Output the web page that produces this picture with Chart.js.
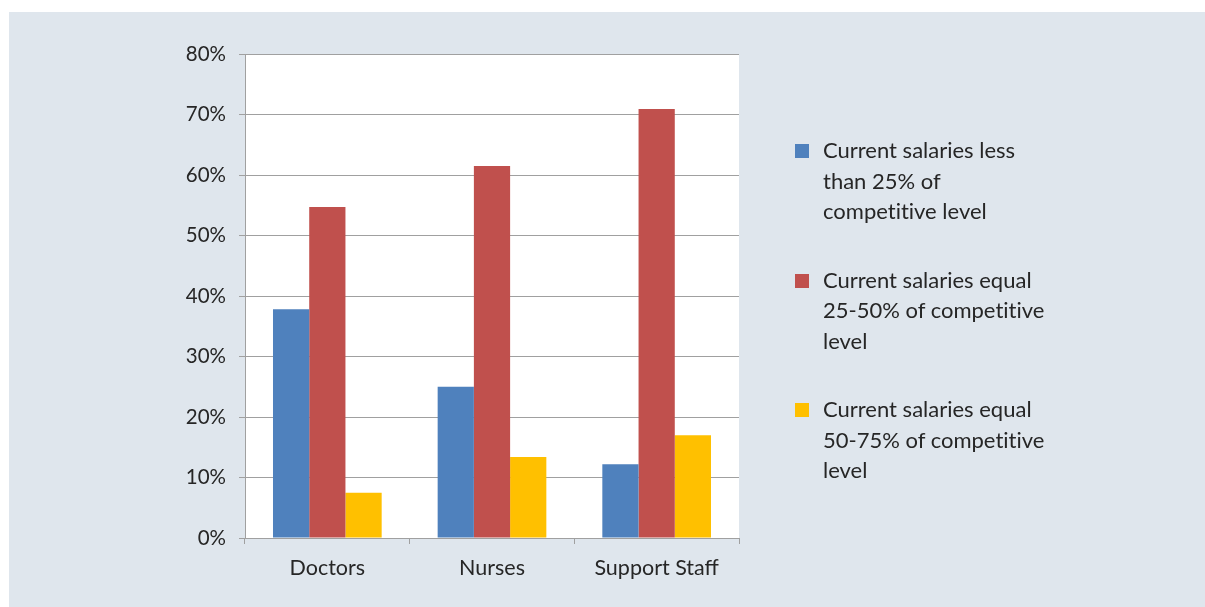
<!DOCTYPE html>
<html lang="en">
<head>
    <meta charset="UTF-8">
    <title>Salaries vs competitive level</title>
    <script src="https://cdn.jsdelivr.net/npm/chart.js"></script>
    <style>
        html, body { margin: 0; padding: 0; background: #ffffff; }
        .painel {
            position: absolute;
            left: 9px;
            top: 12px;
            width: 1196px;
            height: 595px;
            background: #dfe6ed;
        }
        #grafico { position: absolute; left: 0; top: 0; }
        .legenda { position: absolute; left: 786px; top: 123px; font-family: Lato, sans-serif; font-size: 22px; color: #262626; font-variant-ligatures: none; }
        .item { position: relative; padding-left: 28px; line-height: 30.5px; white-space: pre-line; margin-bottom: 38px; }
        .quadrado { position: absolute; left: 0; top: 9px; width: 14px; height: 14px; }
    </style>
</head>
<body>
    <div class="painel">
        <canvas id="grafico" width="1196" height="595"></canvas>
        <div class="legenda" id="legenda"></div>
    </div>

<script>
    // dados
    const categorias = ['Doctors', 'Nurses', 'Support Staff'];
    const series = [
        'Current salaries less\nthan 25% of\ncompetitive level',
        'Current salaries equal\n25-50% of competitive\nlevel',
        'Current salaries equal\n50-75% of competitive\nlevel'
    ];
    const menos25 = [37.8, 25.0, 12.2];
    const entre25e50 = [54.7, 61.5, 70.9];
    const entre50e75 = [7.5, 13.4, 17.0];
    const cores = ['#4f81bd', '#c0504d', '#ffc000'];

    const valores = [menos25, entre25e50, entre50e75];

    Chart.defaults.font.family = 'Lato, sans-serif';
    Chart.defaults.font.size = 20;
    Chart.defaults.color = '#262626';

    // fundo branco so na area do grafico
    const fundoBranco = {
        id: 'fundoBranco',
        beforeDraw(chart) {
            const { ctx, chartArea } = chart;
            ctx.save();
            ctx.fillStyle = '#ffffff';
            ctx.fillRect(chartArea.left, chartArea.top, chartArea.right - chartArea.left, chartArea.bottom - chartArea.top);
            ctx.restore();
        }
    };

    const grafico = new Chart(document.getElementById('grafico'), {
        type: 'bar',
        data: {
            labels: categorias,
            datasets: series.map((nome, i) => ({
                label: nome,
                data: valores[i],
                backgroundColor: cores[i],
                borderWidth: 0,
                categoryPercentage: 0.66,
                barPercentage: 1
            }))
        },
        options: {
            responsive: false,
            animation: false,
            layout: {
                padding: { top: 42, right: 466, bottom: 0, left: 0 }
            },
            plugins: {
                legend: { display: false },
                tooltip: { enabled: false }
            },
            scales: {
                x: {
                    grid: {
                        drawOnChartArea: false,
                        color: '#a0a0a0',
                        tickLength: 6
                    },
                    border: { color: '#a0a0a0' },
                    ticks: { padding: 11, font: { size: 21.5 } },
                    afterFit: scale => { scale.height = 69; }
                },
                y: {
                    min: 0,
                    max: 80,
                    grid: {
                        color: '#a0a0a0',
                        tickLength: 6
                    },
                    border: { color: '#a0a0a0' },
                    ticks: {
                        stepSize: 10,
                        padding: 13,
                        font: { size: 20.5 },
                        callback: v => v + '%'
                    },
                    afterFit: scale => { scale.width = 236; }
                }
            }
        },
        plugins: [fundoBranco]
    });

    // legenda em html por causa das quebras de linha
    const legenda = document.getElementById('legenda');
    series.forEach((nome, i) => {
        legenda.innerHTML += '<div class="item"><span class="quadrado" style="background-color: ' + cores[i] + '"></span>' + nome + '</div>';
    });
</script>
</body>
</html>
